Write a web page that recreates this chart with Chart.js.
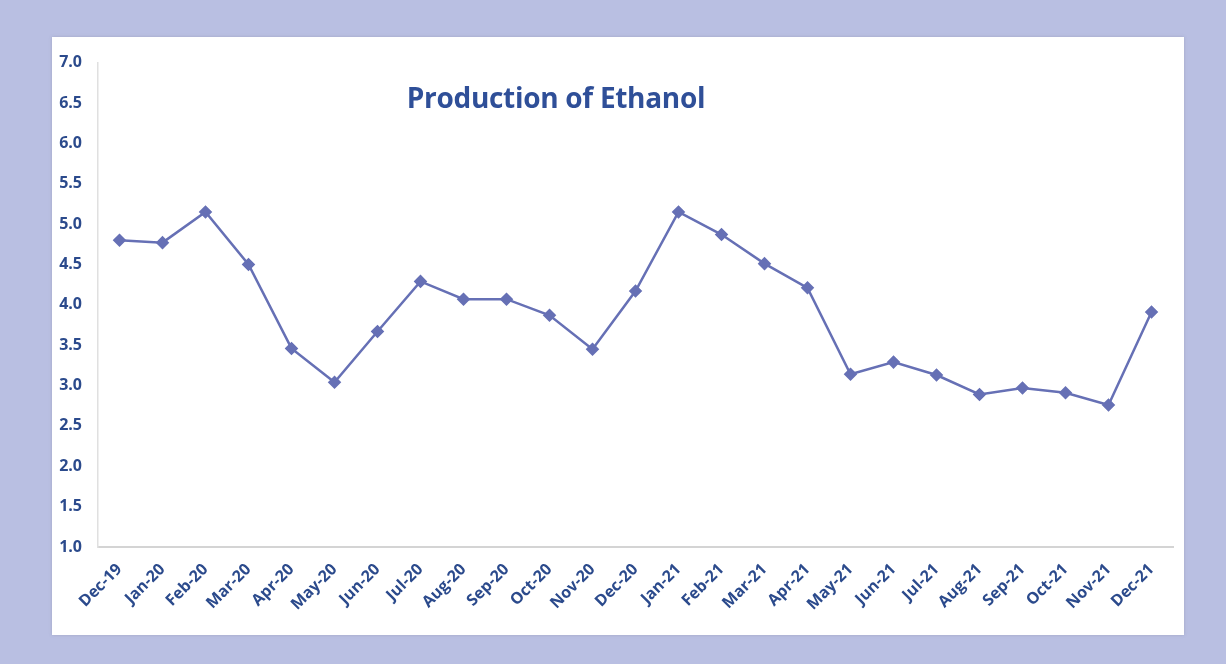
<!DOCTYPE html>
<html>
<head>
<meta charset="utf-8">
<script src="https://cdn.jsdelivr.net/npm/chart.js@4"></script>
<style>
  html, body { margin: 0; padding: 0; background: #b9bfe2; width: 1226px; height: 664px; overflow: hidden; }
  #panel { position: absolute; left: 52px; top: 37px; width: 1132px; height: 598px; background: #fff; box-shadow: 0 0 3px rgba(120,120,150,0.35); }
  #title { position: absolute; left: 0; top: 41px; width: 1008px; text-align: center; font-family: "Open Sans", sans-serif; font-weight: bold; font-size: 28px; color: #2f4f98; letter-spacing: -0.3px; }
</style>
</head>
<body>
<div id="panel">
  <canvas id="myChart" width="1132" height="598"></canvas>
  <div id="title">Production of Ethanol</div>
</div>
<script>
// 월별 라벨과 값
const months = [
    "Dec-19", "Jan-20", "Feb-20", "Mar-20", "Apr-20", "May-20", "Jun-20",
    "Jul-20", "Aug-20", "Sep-20", "Oct-20", "Nov-20", "Dec-20",
    "Jan-21", "Feb-21", "Mar-21", "Apr-21", "May-21", "Jun-21",
    "Jul-21", "Aug-21", "Sep-21", "Oct-21", "Nov-21", "Dec-21"
];
const ethanol = [
    4.80, 4.77, 5.15, 4.50, 3.46, 3.04, 3.67,
    4.29, 4.07, 4.07, 3.87, 3.45, 4.17,
    5.15, 4.87, 4.51, 4.21, 3.14, 3.29,
    3.13, 2.89, 2.97, 2.91, 2.76, 3.91
];
const yMin = 1.0;
const yMax = 7.0;
const yStep = 0.5;

const lineColor = "#6670b5";
const tickColor = "#2b4a8c";

const ctx = document.getElementById('myChart').getContext('2d');

const chart = new Chart(ctx, {
    "type": "line",
    "data": {
        "labels": months,
        "datasets": [
            {
                "label": "Production of Ethanol",
                "data": ethanol,
                "borderColor": lineColor,
                "backgroundColor": lineColor,
                "borderWidth": 2.5,
                "pointStyle": "rectRot",
                "pointRadius": 5,
                "tension": 0
            }
        ]
    },
    "options": {
        "responsive": false,
        "animation": false,
        "layout": { "padding": { "top": 20, "right": 11, "left": 0, "bottom": 0 } },
        "plugins": {
            "legend": { "display": false },
            "tooltip": { "enabled": false }
        },
        "scales": {
            "x": {
                "offset": true,
                "grid": { "display": false, "drawTicks": false },
                "border": { "display": true, "color": "#d4d4d4", "width": 2 },
                "ticks": {
                    "color": tickColor,
                    "font": { "family": "Open Sans", "size": 16, "weight": "bold" },
                    "minRotation": 45,
                    "maxRotation": 45,
                    "padding": 13,
                    "autoSkip": false
                },
                afterFit(scale) { scale.height = 88; }
            },
            "y": {
                "min": yMin,
                "max": yMax,
                "grid": { "display": false, "drawTicks": false },
                "border": { "display": true, "color": "#e0e0e0", "width": 1.5 },
                "ticks": {
                    "stepSize": yStep,
                    "color": tickColor,
                    "font": { "family": "Open Sans", "size": 16, "weight": "bold" },
                    "padding": 16,
                    callback: v => v.toFixed(1)
                },
                afterFit(scale) { scale.width = 46; }
            }
        }
    }
});
</script>
</body>
</html>
